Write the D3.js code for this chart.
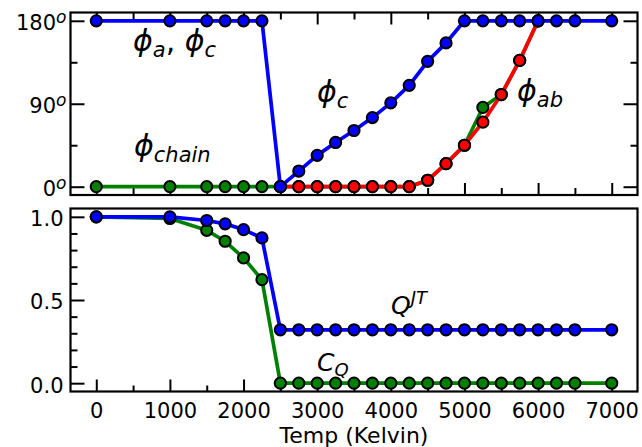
<!DOCTYPE html>
<html><head><meta charset="utf-8">
<script src="https://cdn.jsdelivr.net/npm/d3@7"></script>
<style>body{margin:0;background:#fff} svg{display:block} text{font-family:"DejaVu Sans";fill:#000}</style>
</head><body><svg id="c" width="642" height="447"></svg>
<script>
// ---- data ----
const tempAC = [0,1000,1500,1750,2000,2250,2500,2750,3000,3250,3500,3750,4000,4250,4500,4750,5000,5250,5500,5750,6000,6250,6500,7000];
const phiAC  = [180,180,180,180,180,180,0,17,34,48,61,75,91,110,136,156,180,180,180,180,180,180,180,180];
const tempAB = [2500,2750,3000,3250,3500,3750,4000,4250,4500,4750,5000,5250,5500,5750,6000];
const phiAB  = [0,0,0,0,0,0,0,0,7,25,45,70,100,137,180];
const tempChain = [0,1000,1500,1750,2000,2250,2500,2750,3000,3250,3500,3750,4000,4250,4500,4750,5000,5250,5500,5750,6000];
const phiChain  = [0,0,0,0,0,0,0,0,0,0,0,0,0,0,7,25,45,86,100,137,180];
const tempBot = [0,1000,1500,1750,2000,2250,2500,2750,3000,3250,3500,3750,4000,4250,4500,4750,5000,5250,5500,5750,6000,6250,6500,7000];
const qJT = [1.0,1.0,0.978,0.958,0.923,0.873,0.321,0.321,0.321,0.321,0.321,0.321,0.321,0.321,0.321,0.321,0.321,0.321,0.321,0.321,0.321,0.321,0.321,0.321];
const cQ  = [1.0,0.99,0.919,0.853,0.753,0.622,0,0,0,0,0,0,0,0,0,0,0,0,0,0,0,0,0,0];
const xMajor = [0,1000,2000,3000,4000,5000,6000,7000];
const xMinor = [500,1500,2500,3500,4500,5500,6500];
const yTopMajor = [0,90,180];
const yTopMinor = [45,135];
const yBotMajor = [0,0.5,1.0];
const yBotLabels = ["0.0","0.5","1.0"];
const yBotMinor = [0.1,0.2,0.3,0.4,0.6,0.7,0.8,0.9];
const xLabel = "Temp (Kelvin)";

// ---- layout ----
const svg = d3.select("#c");
const L = 70.5, R = 637.5;
const topT = 12.5, topB = 195, botT = 208.5, botB = 391.5;
const x = d3.scaleLinear().domain([-350,7350]).range([L,R]);
const yT = d3.scaleLinear().domain([-9,189]).range([topB,topT]);
const yB = d3.scaleLinear().domain([-0.05,1.05]).range([botB,botT]);

function styleAxis(g){
  g.select(".domain").remove();
  g.selectAll(".tick line").attr("stroke","#000").attr("stroke-width",2);
  g.selectAll(".tick text").attr("font-size",21).attr("font-family","DejaVu Sans").attr("fill","#000");
}

// top panel axes
svg.append("g").attr("transform",`translate(${L},0)`)
  .call(d3.axisLeft(yT).tickValues(yTopMajor).tickSize(-14).tickPadding(4).tickFormat(d=>d))
  .call(styleAxis)
  .call(g=>g.selectAll(".tick text").attr("dy","0.4em").text(null)
     .each(function(d){
       const t=d3.select(this);
       t.append("tspan").text(d);
       t.append("tspan").attr("font-size",17).attr("font-style","italic").attr("dy",-7).text("o");
     }));
svg.append("g").attr("transform",`translate(${L},0)`)
  .call(d3.axisLeft(yT).tickValues(yTopMinor).tickSize(-7).tickFormat("")).call(styleAxis);
svg.append("g").attr("transform",`translate(${R},0)`)
  .call(d3.axisRight(yT).tickValues(yTopMajor).tickSize(-14).tickFormat("")).call(styleAxis);
svg.append("g").attr("transform",`translate(${R},0)`)
  .call(d3.axisRight(yT).tickValues(yTopMinor).tickSize(-7).tickFormat("")).call(styleAxis);
svg.append("g").attr("transform",`translate(0,${topT})`)
  .call(d3.axisTop(x).tickValues(xMajor).tickSize(-12).tickFormat("")).call(styleAxis);
svg.append("g").attr("transform",`translate(0,${topT})`)
  .call(d3.axisTop(x).tickValues(xMinor).tickSize(-7).tickFormat("")).call(styleAxis);
svg.append("g").attr("transform",`translate(0,${topB})`)
  .call(d3.axisBottom(x).tickValues(xMajor).tickSize(-12).tickFormat("")).call(styleAxis);
svg.append("g").attr("transform",`translate(0,${topB})`)
  .call(d3.axisBottom(x).tickValues(xMinor).tickSize(-7).tickFormat("")).call(styleAxis);

// bottom panel axes
svg.append("g").attr("transform",`translate(${L},0)`)
  .call(d3.axisLeft(yB).tickValues(yBotMajor).tickSize(-14).tickPadding(7).tickFormat((d,i)=>yBotLabels[i]))
  .call(styleAxis).call(g=>g.selectAll(".tick text").attr("dy","0.42em"));
svg.append("g").attr("transform",`translate(${L},0)`)
  .call(d3.axisLeft(yB).tickValues(yBotMinor).tickSize(-7).tickFormat("")).call(styleAxis);
svg.append("g").attr("transform",`translate(0,${botB})`)
  .call(d3.axisBottom(x).tickValues(xMajor).tickSize(-12).tickPadding(12).tickFormat(d=>d))
  .call(styleAxis);
svg.append("g").attr("transform",`translate(0,${botB})`)
  .call(d3.axisBottom(x).tickValues(xMinor).tickSize(-6).tickFormat("")).call(styleAxis);

svg.append("text").attr("x",(L+R)/2).attr("y",443).attr("text-anchor","middle")
  .attr("font-size",22).text(xLabel);

// series
function series(xs, ys, yScale, color){
  const pts = xs.map((t,i)=>[x(t), yScale(ys[i])]);
  svg.append("path").attr("d", d3.line()(pts)).attr("fill","none")
    .attr("stroke",color).attr("stroke-width",3.7).attr("stroke-linejoin","round");
  svg.append("g").selectAll("circle").data(pts).join("circle")
    .attr("cx",d=>d[0]).attr("cy",d=>d[1]).attr("r",5.6)
    .attr("fill",color).attr("stroke","#000").attr("stroke-width",2);
}
series(tempChain, phiChain, yT, "#008000");
series(tempAB, phiAB, yT, "#ff0000");
series(tempAC, phiAC, yT, "#0000ff");
series(tempBot, cQ, yB, "#008000");
series(tempBot, qJT, yB, "#0000ff");

// frames
svg.append("rect").attr("x",L).attr("y",topT).attr("width",R-L).attr("height",topB-topT)
  .attr("fill","none").attr("stroke","#000").attr("stroke-width",2.2);
svg.append("rect").attr("x",L).attr("y",botT).attr("width",R-L).attr("height",botB-botT)
  .attr("fill","none").attr("stroke","#000").attr("stroke-width",2.2);

// math labels
function mathLabel(px, py, parts, base, sub){
  const t = svg.append("text").attr("x",px).attr("y",py);
  let cur = 0;
  parts.forEach(p=>{
    const off = p.off||0;
    t.append("tspan").attr("font-size",p.sub?sub:base).attr("font-style",p.up?"normal":"italic")
      .attr("dy", off-cur).text(p.t);
    cur = off;
  });
}
mathLabel(133, 51, [{t:"\u03D5"},{t:"a",sub:1,off:6},{t:", ",up:true},{t:"\u03D5"},{t:"c",sub:1,off:6}], 30, 21);
mathLabel(134, 156, [{t:"\u03D5"},{t:"chain",sub:1,off:6}], 30, 21);
mathLabel(317, 102, [{t:"\u03D5"},{t:"c",sub:1,off:6}], 30, 21);
mathLabel(517, 101, [{t:"\u03D5"},{t:"ab",sub:1,off:6}], 30, 21);
mathLabel(391, 314, [{t:"Q"},{t:"JT",sub:1,off:-10}], 25, 18);
mathLabel(317, 371, [{t:"C"},{t:"Q",sub:1,off:5}], 25, 18);
</script></body></html>
